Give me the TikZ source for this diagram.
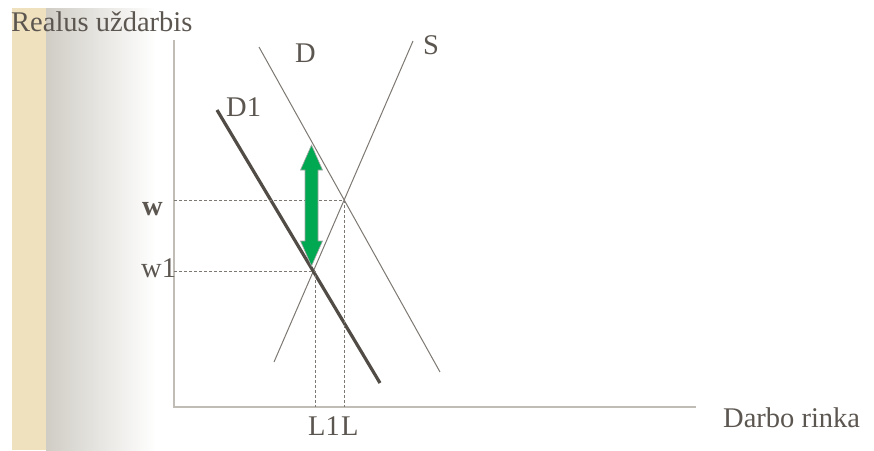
\documentclass[tikz,border=0pt]{standalone}
\usepackage{fontspec}
\setmainfont{Liberation Serif}
\usetikzlibrary{calc}
\definecolor{inkgray}{RGB}{92,86,80}
\definecolor{axisgray}{RGB}{192,188,182}
\definecolor{linegray}{RGB}{125,120,114}
\definecolor{darkline}{RGB}{82,76,70}
\definecolor{parchment}{RGB}{239,225,190}
\definecolor{fadegray}{RGB}{208,205,197}
\definecolor{arrowgreen}{RGB}{0,168,82}
\tikzset{
 axis/.style={draw=axisgray,line width=1.8pt},
 curve/.style={draw=linegray,line width=1pt},
 shifted/.style={draw=darkline,line width=3.2pt},
 guide/.style={draw=linegray,line width=0.8pt,dash pattern=on 3pt off 2pt},
 lbl/.style={anchor=base west,inner sep=0pt,text=inkgray,font=\fontsize{28.5}{32}\selectfont}
}
\begin{document}
\begin{tikzpicture}[x=1pt,y=-1pt]
\useasboundingbox (0,0) rectangle (874,450);
% paper strip at the left
\fill[parchment] (12,8) rectangle (46,450);
\shade[left color=fadegray,right color=white] (46,8) rectangle (156,450);

% axes
\coordinate (o) at (174,407);
\coordinate (ytop) at (174,40);
\coordinate (xend) at (696,407);
\draw[axis] (ytop) -- (o) -- (xend);

% supply and demand
\coordinate (Dtop) at (259,47);
\coordinate (Dbot) at (440,372);
\coordinate (Stop) at (413,41);
\coordinate (Sbot) at (274,362);
\coordinate (D1top) at (217,110);
\coordinate (D1bot) at (380,383);
\draw[curve] (Dtop) -- (Dbot);
\draw[curve] (Stop) -- (Sbot);
\draw[shifted] (D1top) -- (D1bot);

% equilibria
\coordinate (eq) at (344,200);
\coordinate (eq1) at (315,271);
\draw[guide] (o |- eq) -- (eq) -- (o -| eq);
\draw[guide] (o |- eq1) -- (eq1) -- (o -| eq1);

% wage drop
\filldraw[fill=arrowgreen,draw=gray!70,line width=0.6pt]
  (311.5,145) -- (322.5,170) -- (318,170) -- (318,241) -- (322.5,241)
  -- (311.5,266) -- (300.5,241) -- (305,241) -- (305,170) -- (300.5,170) -- cycle;

% labels
\node[lbl] (ylab) at (11,31) {Realus uždarbis};
\node[lbl] (xlab) at (723,427) {Darbo rinka};
\node[lbl] (dlab) at (295,62) {D};
\node[lbl] (slab) at (423,54) {S};
\node[lbl] (d1lab) at (226,116) {D1};
\node[lbl] (wlab) at (142,215) {\bfseries w};
\node[lbl] (w1lab) at (141,277) {w1};
\node[lbl] (l1lab) at (308,435) {L1};
\node[lbl] (llab) at (341,435) {L};
\end{tikzpicture}
\end{document}
